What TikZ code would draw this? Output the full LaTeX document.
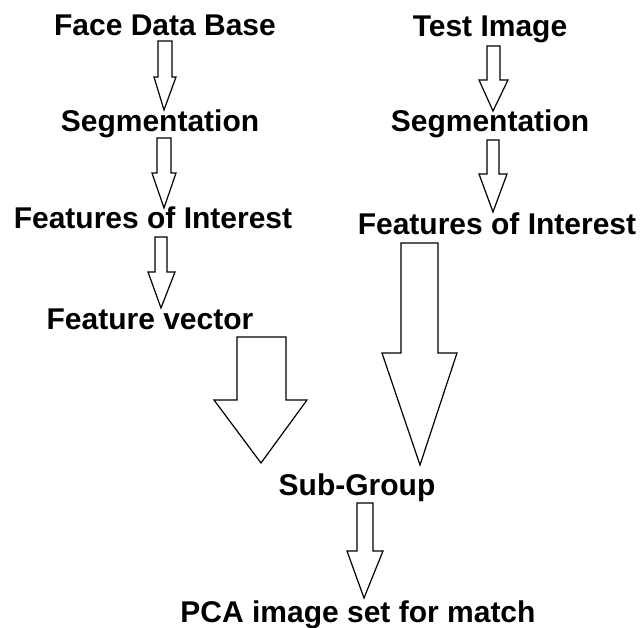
\documentclass[tikz,border=0pt]{standalone}
\usepackage{fontspec}
\setmainfont{Liberation Sans}
\newcommand{\blockarr}[8]{\draw[blockarrow] (#1,#3) -- (#2,#3) -- (#2,#4) -- (#6,#4) -- (#7,#8) -- (#5,#4) -- (#1,#4) -- cycle;}
\begin{document}
\begin{tikzpicture}[x=1pt,y=-1pt,
  lbl/.style={anchor=base,inner sep=0pt,font=\fontsize{30}{36}\selectfont\bfseries},
  blockarrow/.style={draw=black,line width=1.2pt,line join=miter}]
\useasboundingbox[fill=white] (0,0) rectangle (643,628);
\node[lbl] (fdb)  at (165,36)  {Face Data Base};
\node[lbl] (seg1) at (160,132) {Segmentation};
\node[lbl] (foi1) at (153,229) {Features of Interest};
\node[lbl] (fv)   at (150,330) {Feature vector};
\node[lbl] (ti)   at (490,37)  {Test Image};
\node[lbl] (seg2) at (490,132) {Segmentation};
\node[lbl] (foi2) at (497,235) {Features of Interest};
\node[lbl] (sg)   at (357,495) {Sub-Group};
\node[lbl] (pca)  at (358,622) {PCA image set for match};
% block arrows: shaft x1, shaft x2, top y, head y, head x1, head x2, tip x, tip y
\blockarr{158}{172}{41}{77}{154}{176}{164}{110}
\blockarr{157}{171}{138}{173}{152}{176}{164}{208}
\blockarr{155}{167}{237}{272}{148}{175}{161}{308}
\blockarr{237}{286}{337}{400}{214}{307}{261}{463}
\blockarr{401}{438}{243}{353}{382}{457}{420}{465}
\blockarr{487}{500}{46}{80}{479}{508}{493}{111}
\blockarr{487}{499}{140}{174}{479}{507}{493}{212}
\blockarr{357}{373}{503}{551}{347}{383}{364}{598}
\end{tikzpicture}
\end{document}
